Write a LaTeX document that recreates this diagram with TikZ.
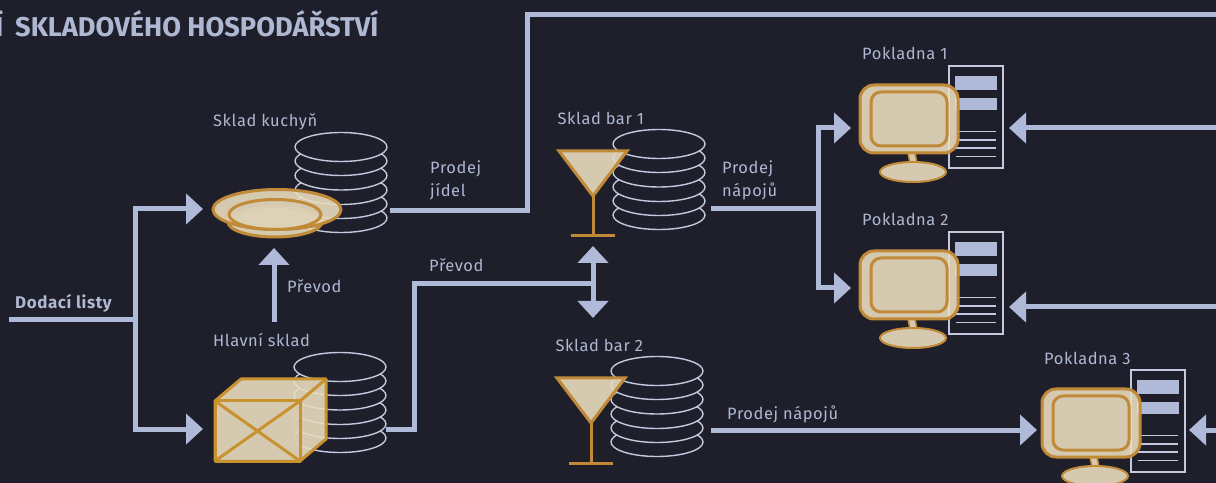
\documentclass[tikz,border=0pt]{standalone}
\usepackage{fontspec}
\setmainfont{Fira Sans}
\newfontfamily\labfont[LetterSpace=3.5]{Fira Sans}
\usetikzlibrary{arrows.meta}
\definecolor{bgc}{HTML}{1F1F2B}
\definecolor{flow}{HTML}{AEBAD8}
\definecolor{lbl}{HTML}{AEB8D2}
\definecolor{ring}{HTML}{C3CADF}
\definecolor{gold}{HTML}{C08A38}
\definecolor{crategold}{HTML}{C8922F}
\definecolor{sand}{HTML}{E9DCBF}
\definecolor{sandb}{HTML}{D5C9B0}
\newcommand{\stackrings}{%
  \foreach \k in {71,57,43,28.5,14,0}{
    \draw[ringline] (0,\k) ellipse [x radius=46,y radius=14.5];
  }}
\tikzset{
  x=1bp,y=-1bp,
  flowline/.style={draw=flow,line width=5bp},
  headed/.style={flowline,-{Triangle[length=17bp,width=30bp]}},
  bothhead/.style={flowline,{Triangle[length=17bp,width=30bp]}-{Triangle[length=17bp,width=30bp]}},
  ringline/.style={draw=ring,line width=1.4bp,fill=bgc},
  obj/.style={draw=gold,line width=3bp,fill=sand,fill opacity=.9,line join=round},
  objin/.style={draw=gold,line width=3bp,fill=sandb,fill opacity=.5,line join=round},
  objline/.style={draw=gold,line width=3bp},
  cratein/.style={objin,draw=crategold},
  crateline/.style={draw=crategold,line width=3bp},
  lab/.style={text=lbl,font=\labfont\fontsize{16.5}{24}\selectfont,inner sep=0pt,anchor=base west},
  lab2/.style={text=lbl,font=\labfont\fontsize{16.5}{24}\selectfont,inner sep=0pt,anchor=north west,align=left},
  ringsat/.pic={\stackrings},
  glass/.pic={
    \draw[obj,line join=miter] (0,0) -- (68,0) -- (34,45) -- cycle;
    \draw[objline] (34,45) -- (34,85);
    \draw[objline] (12,85) -- (56,85);
  },
  till/.pic={
    \draw[draw=ring,line width=1.3bp] (89,-19) rectangle (143,83);
    \fill[flow] (95,-9) rectangle (136.5,5);
    \fill[flow] (95,13) rectangle (136.5,25);
    \foreach \q in {46.5,55,63,71.5}{\draw[draw=ring,line width=1.3bp] (96,\q) -- (136,\q);}
    \draw[obj,line width=1.5bp] (48,68) -- (50,78) -- (57,78) -- (55,68) -- cycle;
    \draw[obj,line width=2bp] (53,87) ellipse [x radius=33,y radius=10];
    \draw[obj,rounded corners=14bp] (0,0) rectangle (98,68);
    \draw[objin,rounded corners=10bp] (11,7) rectangle (87,61);
  }
}
\begin{document}
\begin{tikzpicture}
\useasboundingbox (0,0) rectangle (1216,483);
\fill[bgc] (0,0) rectangle (1216,483);
% waypoints
\coordinate (d0) at (9,320);
\coordinate (d1) at (135,320);
\coordinate (kTip) at (203,209);
\coordinate (hTip) at (203,429);
\coordinate (tr0) at (135,209);
\coordinate (tr1) at (135,429);
\coordinate (up0) at (274,322);
\coordinate (up1) at (274,248);
\coordinate (h0) at (386,429);
\coordinate (h1) at (414,429);
\coordinate (h2) at (414,284);
\coordinate (h3) at (593,284);
\coordinate (bTop) at (593,246);
\coordinate (bBot) at (593,318);
\coordinate (j0) at (390,211);
\coordinate (j1) at (527,211);
\coordinate (j2) at (527,15);
\coordinate (j3) at (1216,15);
\coordinate (n0) at (711,209);
\coordinate (n1) at (818,209);
\coordinate (n2) at (818,128);
\coordinate (n3) at (818,288);
\coordinate (p1L) at (851,128);
\coordinate (p2L) at (851,288);
\coordinate (m0) at (711,430);
\coordinate (p3L) at (1037,430);
\coordinate (r1) at (1216,128);
\coordinate (r1t) at (1009,128);
\coordinate (r2) at (1216,307);
\coordinate (r2t) at (1009,307);
\coordinate (r3) at (1216,430);
\coordinate (r3t) at (1189,430);
% stacks
\pic (s1) at (341,147) {ringsat};
\pic (s2) at (340,367) {ringsat};
\pic (s3) at (659,144) {ringsat};
\pic (s4) at (657,371) {ringsat};
% plate
\draw[obj] (275,222) ellipse [x radius=47,y radius=15];
\draw[obj] (277,209.5) ellipse [x radius=64,y radius=20];
\draw[objin] (275,214.5) ellipse [x radius=46,y radius=15];
% crate
\draw[obj,draw=crategold] (215,401) -- (241,379) -- (326,379) -- (326,439) -- (300,461) -- (215,461) -- cycle;
\draw[crateline] (300,401) -- (326,379);
\draw[cratein] (215,401) rectangle (300,461);
\draw[crateline] (215,401) -- (300,461);
\draw[crateline] (215,461) -- (300,401);
% glasses
\pic (g1) at (559,151) {glass};
\pic (g2) at (557,378) {glass};
% tills
\pic (t1) at (860,85) {till};
\pic (t2) at (860,251) {till};
\pic (t3) at (1042,389) {till};
% connectors
\draw[flowline] (d0) -- (d1);
\draw[headed] (d1) -- (tr0) -- (kTip);
\draw[headed] (d1) -- (tr1) -- (hTip);
\draw[headed] (up0) -- (up1);
\draw[flowline] (h0) -- (h1) -- (h2) -- (h3);
\draw[bothhead] (bTop) -- (bBot);
\draw[flowline,line join=miter] (j0) -- (j1) -- (j2) -- (j3);
\draw[flowline] (n0) -- (n1);
\draw[headed] (n1) -- (n2) -- (p1L);
\draw[headed] (n1) -- (n3) -- (p2L);
\draw[headed] (m0) -- (p3L);
\draw[headed] (r1) -- (r1t);
\draw[headed] (r2) -- (r2t);
\draw[headed] (r3) -- (r3t);
% labels
\node[text=lbl,font=\fontsize{27.3}{30}\bfseries\selectfont,inner sep=0pt,anchor=base west] (title) at (15,37) {SKLADOVÉHO HOSPODÁŘSTVÍ};
\node[text=lbl,font=\fontsize{27.3}{30}\bfseries\selectfont,inner sep=0pt,anchor=base east] (titleend) at (3.5,37) {Í};
\node[lab] (a1) at (213,127) {Sklad kuchyň};
\node[lab2] (a2) at (430,160) {Prodej\\jídel};
\node[lab] (a3) at (557.5,125) {Sklad bar 1};
\node[lab2] (a4) at (722,160) {Prodej\\nápojů};
\node[lab] (a5) at (862,60) {Pokladna 1};
\node[lab] (a6) at (862,226) {Pokladna 2};
\node[lab] (a7) at (1044,365) {Pokladna 3};
\node[lab,font=\labfont\fontsize{17}{24}\bfseries\selectfont] (a8) at (15,309) {Dodací listy};
\node[lab] (a9) at (287,293) {Převod};
\node[lab] (a10) at (213,347) {Hlavní sklad};
\node[lab] (a11) at (429,272) {Převod};
\node[lab] (a12) at (555.5,352) {Sklad bar 2};
\node[lab] (a13) at (727,419) {Prodej nápojů};
\end{tikzpicture}
\end{document}
